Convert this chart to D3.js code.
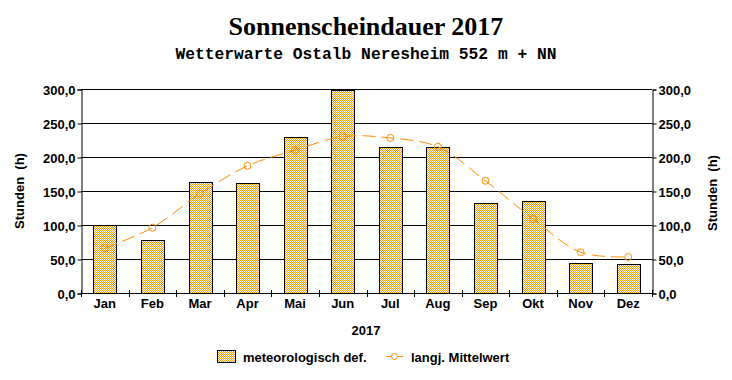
<!DOCTYPE html>
<html><head><meta charset="utf-8">
<script src="https://cdn.jsdelivr.net/npm/d3@7"></script>
<style>
html,body{margin:0;padding:0;background:#fff;}
svg{display:block;}
text{font-family:"Liberation Sans",Arial,sans-serif;font-weight:bold;fill:#000;}
</style></head>
<body>
<svg id="chart" width="732" height="380"></svg>
<script>
const months = ["Jan","Feb","Mar","Apr","Mai","Jun","Jul","Aug","Sep","Okt","Nov","Dez"];
const sunshine2017 = [100, 78, 163, 162, 229, 299, 215, 215, 132, 135, 44, 43];
const longTermMean = [66, 96, 146, 187, 210, 230, 228, 215, 165, 109, 60, 53];
const yTicks = [0, 50, 100, 150, 200, 250, 300];
const titleText = "Sonnenscheindauer 2017";
const subtitleText = "Wetterwarte Ostalb Neresheim 552 m + NN";
const yAxisTitle = "Stunden  (h)";
const xAxisTitle = "2017";
const legendLabels = ["meteorologisch def.", "langj. Mittelwert"];

const svg = d3.select("#chart");
const L = 81, R = 652, T = 89, B = 293;
const orange = "#FF8C00";

const defs = svg.append("defs");
const pat = defs.append("pattern").attr("id","chk").attr("width",2).attr("height",2)
  .attr("patternUnits","userSpaceOnUse");
pat.append("rect").attr("width",2).attr("height",2).attr("fill","#FFFFFF");
pat.append("rect").attr("x",0).attr("y",0).attr("width",1).attr("height",1).attr("fill","#FF9900");
pat.append("rect").attr("x",1).attr("y",1).attr("width",1).attr("height",1).attr("fill","#FF9900");

const x = d3.scaleBand().domain(months).range([L, R]).paddingInner(0.52).paddingOuter(0.26);
const y = d3.scaleLinear().domain([0, 300]).range([B, T]);
const fmt = v => d3.format(".1f")(v).replace(".", ",");

// Title
svg.append("text").attr("x",366).attr("y",35).attr("text-anchor","middle")
  .style("font-family","'Liberation Serif','Times New Roman',serif").style("font-size","26px").text(titleText);
svg.append("text").attr("x",366).attr("y",59).attr("text-anchor","middle")
  .style("font-family","'Liberation Mono','Courier New',monospace").style("font-size","16.3px").text(subtitleText);

// gridlines
svg.append("g").selectAll("line").data(yTicks.filter(d=>d>0)).join("line")
  .attr("x1",L).attr("x2",R).attr("y1",d=>Math.round(y(d))+0.5).attr("y2",d=>Math.round(y(d))+0.5)
  .attr("stroke","#000").attr("stroke-width",1);

// bars
svg.append("g").selectAll("rect").data(months).join("rect")
  .attr("x",d=>Math.round(x(d))+0.5)
  .attr("y",(d,i)=>Math.round(y(sunshine2017[i]))+0.5)
  .attr("width",Math.round(x.bandwidth()))
  .attr("height",(d,i)=>Math.round(y(0))-Math.round(y(sunshine2017[i])))
  .attr("fill","url(#chk)").attr("stroke","#000").attr("stroke-width",1);

// axes
const leftAxis = d3.axisLeft(y).tickValues(yTicks).tickFormat(fmt).tickSize(4).tickPadding(2);
const gl = svg.append("g").attr("transform",`translate(${L+0.5},0.5)`).call(leftAxis);
const rightAxis = d3.axisRight(y).tickValues(yTicks).tickFormat(fmt).tickSize(4).tickPadding(2);
const gr = svg.append("g").attr("transform",`translate(${R+0.5},0.5)`).call(rightAxis);
[gl,gr].forEach(g=>{
  g.select(".domain").attr("stroke","#000");
  g.selectAll(".tick line").attr("stroke","#000");
  g.selectAll("text").style("font-family","'Liberation Sans',Arial,sans-serif")
    .style("font-weight","bold").style("font-size","13px").attr("fill","#000").attr("dy","0.36em");
});

// x axis
const xb = svg.append("g");
xb.append("line").attr("x1",L).attr("x2",R+1).attr("y1",B+0.5).attr("y2",B+0.5).attr("stroke","#000");
const bnd = d3.range(months.length+1).map(i => L + i*x.step());
xb.selectAll("line.t").data(bnd).join("line").attr("class","t")
  .attr("x1",d=>Math.round(d)+0.5).attr("x2",d=>Math.round(d)+0.5)
  .attr("y1",B-3).attr("y2",B+4).attr("stroke","#000");
xb.selectAll("text").data(months).join("text")
  .attr("x",d=>x(d)+x.bandwidth()/2).attr("y",308).attr("text-anchor","middle")
  .style("font-size","13px").text(d=>d);

svg.append("text").attr("x",366).attr("y",335).attr("text-anchor","middle").style("font-size","13px").text(xAxisTitle);

// y titles
svg.append("text").attr("transform","translate(24,191) rotate(-90)").attr("text-anchor","middle")
  .style("font-size","13px").style("white-space","pre").text(yAxisTitle);
svg.append("text").attr("transform","translate(717,193) rotate(-90)").attr("text-anchor","middle")
  .style("font-size","13px").style("white-space","pre").text(yAxisTitle);

// mean line
const cx = (d,i) => x(months[i]) + x.bandwidth()/2;
const line = d3.line().x((d,i)=>cx(d,i)).y(d=>y(d)).curve(d3.curveCatmullRom.alpha(0.5));
svg.append("path").datum(longTermMean).attr("d",line).attr("fill","none")
  .attr("stroke",orange).attr("stroke-width",1).attr("stroke-dasharray","13,6");
svg.append("g").selectAll("circle").data(longTermMean).join("circle")
  .attr("cx",(d,i)=>cx(d,i)).attr("cy",d=>y(d)).attr("r",3.5)
  .attr("fill","none").attr("stroke",orange).attr("stroke-width",1);

// legend
svg.append("rect").attr("x",217.5).attr("y",350.5).attr("width",18).attr("height",12)
  .attr("fill","url(#chk)").attr("stroke","#000");
svg.append("text").attr("x",243).attr("y",362).style("font-size","13px").text(legendLabels[0]);
svg.append("line").attr("x1",386).attr("x2",403).attr("y1",356.5).attr("y2",356.5).attr("stroke",orange);
svg.append("circle").attr("cx",394.5).attr("cy",356.5).attr("r",3).attr("fill","#fff").attr("stroke",orange);
svg.append("text").attr("x",411).attr("y",362).style("font-size","13px").text(legendLabels[1]);
</script>
</body></html>
